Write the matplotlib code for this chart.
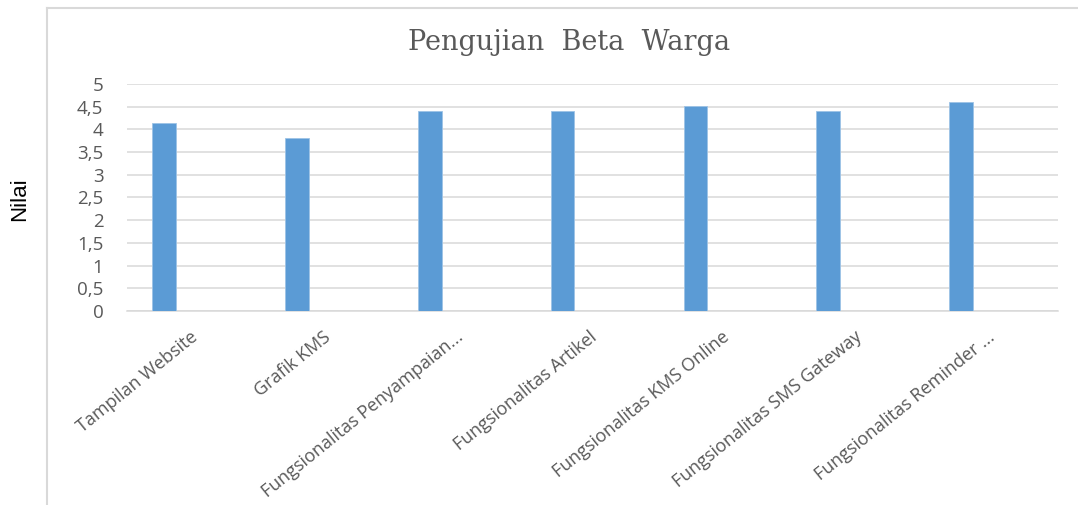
import matplotlib
matplotlib.use('Agg')
import matplotlib.pyplot as plt
from matplotlib.lines import Line2D
from matplotlib.transforms import ScaledTranslation
import numpy as np

# data
categories = ['Tampilan Website', 'Grafik KMS', 'Fungsionalitas Penyampaian...',
              'Fungsionalitas Artikel', 'Fungsionalitas KMS Online',
              'Fungsionalitas SMS Gateway', 'Fungsionalitas Reminder ...']
nilai = [4.15, 3.8, 4.41, 4.41, 4.52, 4.41, 4.6]
yticks = [0, 0.5, 1, 1.5, 2, 2.5, 3, 3.5, 4, 4.5, 5]
ytick_labels = ['0', '0,5', '1', '1,5', '2', '2,5', '3', '3,5', '4', '4,5', '5']

W, H = 1078, 505
fig = plt.figure(figsize=(W / 100, H / 100), dpi=100)
ax = fig.add_axes([127 / W, 1 - 311 / H, (1058 - 127) / W, (311 - 84) / H])

x = np.arange(len(categories))
ax.bar(x, nilai, width=0.178, color='#5B9BD5', edgecolor='#9DC3E6', linewidth=0.6, zorder=3)

ax.set_ylim(0, 5)
ax.set_xlim(-0.28, 6.73)
ax.set_yticks(yticks)
ax.set_yticklabels(ytick_labels, fontsize=13.5, color='#595959', family='Open Sans')
ax.tick_params(axis='y', length=0, pad=17)
ax.grid(axis='y', color='#D9D9D9', linewidth=1.1, zorder=0)
ax.set_axisbelow(True)

for s in ['top', 'right', 'left']:
    ax.spines[s].set_visible(False)
ax.spines['bottom'].set_color('#D9D9D9')
ax.spines['bottom'].set_linewidth(1.1)

# rotated category labels, end of text near the tick
ax.set_xticks(x)
ax.tick_params(axis='x', length=0)
ax.set_xticklabels(categories, rotation=39, ha='right', rotation_mode='anchor',
                   fontsize=13, color='#595959', family='Open Sans')
off = ScaledTranslation(26 / 100, -12 / 100, fig.dpi_scale_trans)
for lbl in ax.get_xticklabels():
    lbl.set_transform(lbl.get_transform() + off)

fig.text(569 / W, 1 - 50 / H, 'Pengujian  Beta  Warga', ha='center', va='baseline',
         fontsize=19.5, color='#595959', family='DejaVu Serif')
fig.text(20 / W, 1 - 199 / H, 'Nilai', rotation=90, ha='center', va='center',
         fontsize=16, color='black', family='Liberation Sans')

# chart area border (left and top edges visible)
fig.add_artist(Line2D([47 / W, 47 / W], [0, 1 - 8 / H], transform=fig.transFigure,
                      color='#D9D9D9', linewidth=1.5))
fig.add_artist(Line2D([47 / W, 1], [1 - 8 / H, 1 - 8 / H], transform=fig.transFigure,
                      color='#D9D9D9', linewidth=1.5))

fig.savefig('out.png', dpi=100, facecolor='white')
